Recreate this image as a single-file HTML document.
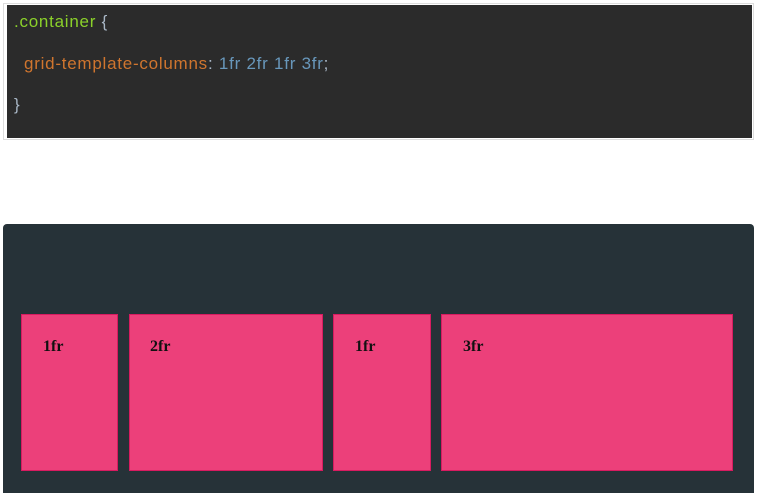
<!DOCTYPE html>
<html><head><meta charset="utf-8"><style>
html,body{margin:0;padding:0;background:#fff;width:758px;height:493px;overflow:hidden;position:relative;font-family:"Liberation Sans",sans-serif}
.code{position:absolute;left:3px;top:3px;width:749px;height:135px;border:1px solid #ddd;background:#fff}
.code-inner{position:absolute;left:3px;top:1px;right:1px;bottom:1px;background:#2b2b2b}
.ln{position:absolute;font-size:17px;white-space:pre;line-height:20px;letter-spacing:0.75px}
.g{color:#8bd12a}.o{color:#d0752e}.b{color:#6897bb}.w{color:#a9b7c6}
.panel{position:absolute;left:3px;top:224px;width:751px;height:269px;background:#263238;border-radius:4px 4px 0 0}
.box{position:absolute;top:314px;height:155px;background:#ec407a;border:1px solid #d81b60}
.lbl{position:absolute;top:23px;font-family:"Liberation Serif",serif;font-weight:bold;font-size:16px;color:#111}
</style></head><body>
<div class="code"><div class="code-inner">
<div class="ln" style="left:7px;top:7px"><span class="g">.container</span> <span class="w">{</span></div>
<div class="ln" style="left:17px;top:49px"><span class="o">grid-template-columns</span><span class="w">: </span><span class="b">1fr 2fr 1fr 3fr</span><span class="w">;</span></div>
<div class="ln" style="left:7px;top:90px"><span class="w">}</span></div>
</div></div>
<div class="panel"></div>
<div class="box" style="left:21px;width:95px"><span class="lbl" style="left:21px">1fr</span></div>
<div class="box" style="left:129px;width:192px"><span class="lbl" style="left:20px">2fr</span></div>
<div class="box" style="left:333px;width:96px"><span class="lbl" style="left:21px">1fr</span></div>
<div class="box" style="left:441px;width:290px"><span class="lbl" style="left:21px">3fr</span></div>
</body></html>
